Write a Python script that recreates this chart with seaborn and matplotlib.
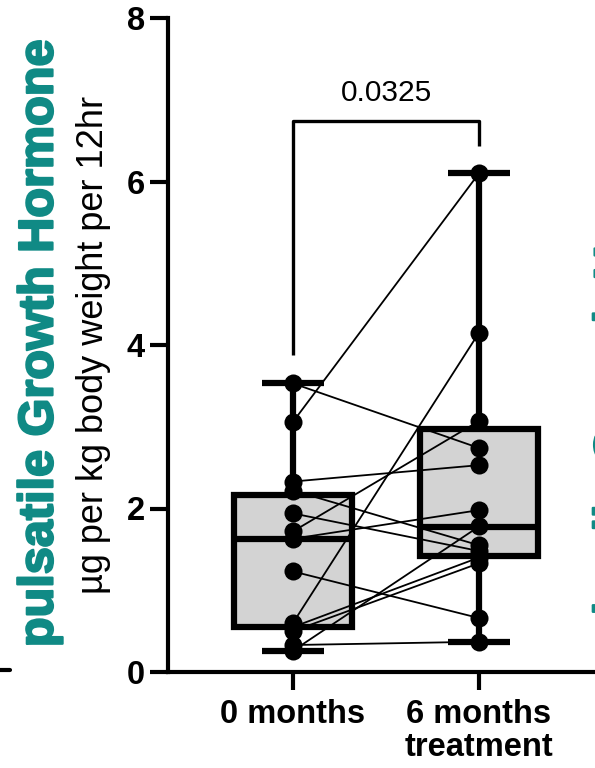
import numpy as np
import pandas as pd
import matplotlib
matplotlib.use("Agg")
import matplotlib.pyplot as plt
from matplotlib.lines import Line2D
import matplotlib.patheffects as pe
import seaborn as sns

# ---- data ----
categories = ["0 months", "6 months\ntreatment"]
subjects = list(range(1, 14))
month0 = [3.53, 3.06, 2.33, 2.22, 1.94, 1.72, 1.63, 1.23, 0.60, 0.55, 0.50, 0.33, 0.26]
month6 = [2.74, 6.10, 2.53, 1.55, 1.48, 3.07, 1.98, 0.66, 4.15, 1.40, 1.33, 0.37, 1.78]
# box statistics as drawn (GraphPad quartiles)
box_q1 = [0.55, 1.42]
box_med = [1.63, 1.77]
box_q3 = [2.17, 2.97]
p_value_text = "0.0325"
bracket_y = [3.88, 6.74, 6.43]
yticks = [0, 2, 4, 6, 8]

teal = "#108a85"

sns.set_style("ticks")
plt.rcParams["font.family"] = ["Liberation Sans", "DejaVu Sans"]
plt.rcParams["text.color"] = "black"
plt.rcParams["xtick.color"] = "black"
plt.rcParams["ytick.color"] = "black"
plt.rcParams["axes.labelcolor"] = "black"

fig = plt.figure(figsize=(5.95, 7.68), dpi=100)
ax = fig.add_axes([168 / 595, 1 - 672 / 768, 1 - 168 / 595, (672 - 18) / 768])

# boxes
groups = [month0, month6]
stats = []
for i, g in enumerate(groups):
    stats.append(dict(med=box_med[i], q1=box_q1[i], q3=box_q3[i],
                      whislo=min(g), whishi=max(g), fliers=[], label=categories[i]))
ax.bxp(stats, positions=[0, 1], widths=0.63, capwidths=0.333, patch_artist=True,
       showfliers=False, manage_ticks=False,
       boxprops=dict(facecolor="#d3d3d3", edgecolor="black", linewidth=4.5),
       whiskerprops=dict(color="black", linewidth=4.5, solid_capstyle="butt"),
       capprops=dict(color="black", linewidth=4.5, solid_capstyle="butt"),
       medianprops=dict(color="black", linewidth=4.5, solid_capstyle="butt"),
       zorder=1)

# paired data
df = pd.DataFrame({
    "subject": subjects * 2,
    "pos": [0] * len(month0) + [1] * len(month6),
    "value": month0 + month6,
})
sns.lineplot(data=df, x="pos", y="value", units="subject", estimator=None,
             color="black", lw=1.3, ax=ax, legend=False, zorder=3)
sns.scatterplot(data=df, x="pos", y="value", s=169, color="black", linewidth=0,
                ax=ax, legend=False, zorder=4, clip_on=False)

# significance bracket
ax.plot([0, 0, 1, 1], [bracket_y[0], bracket_y[1], bracket_y[1], bracket_y[2]],
        color="black", lw=2.4, solid_capstyle="butt", clip_on=False)
ax.text(0.5, 6.98, p_value_text, ha="center", va="baseline", fontsize=21.5, color="black")

# axes styling
ax.set_xlim(-(293 - 168) / 186, (595 - 293) / 186)
ax.set_ylim(0, 8)
ax.set_xticks([0, 1])
ax.set_xticklabels(categories, fontsize=23.5, fontweight="bold", linespacing=1.1,
                   color="black")
ax.set_yticks(yticks)
ax.set_yticklabels([str(t) for t in yticks], fontsize=23.5, fontweight="bold",
                   color="black")
ax.set_xlabel("")
ax.set_ylabel("")
for s in ["top", "right"]:
    ax.spines[s].set_visible(False)
for s in ["left", "bottom"]:
    ax.spines[s].set_linewidth(3)
    ax.spines[s].set_color("black")
ax.tick_params(axis="both", length=13, width=3, color="black", labelcolor="black")
ax.tick_params(axis="y", pad=3.6)
ax.tick_params(axis="x", pad=6.5)
ax.patch.set_visible(False)

heavy = [pe.withStroke(linewidth=1.6, foreground=teal)]

# y labels
fig.text(40 / 595, 1 - 343.5 / 768, "pulsatile Growth Hormone", rotation=90,
         ha="center", va="center", fontsize=35, fontweight="bold", color=teal,
         path_effects=heavy)
fig.text(93.5 / 595, 1 - 345 / 768, "µg per kg body weight per 12hr", rotation=90,
         ha="center", va="center", fontsize=26, color="black")

# cropped neighbouring panel fragments
fig.text(593 / 595, 1 - 371 / 768, "pulsatile Growth Hormone", rotation=90,
         ha="left", va="center", fontsize=35, fontweight="bold", color=teal,
         path_effects=heavy)
fig.add_artist(Line2D([0, 10 / 595], [1 - 670 / 768, 1 - 670 / 768],
                      transform=fig.transFigure, color="black", lw=3))

fig.savefig("out.png", dpi=100)
